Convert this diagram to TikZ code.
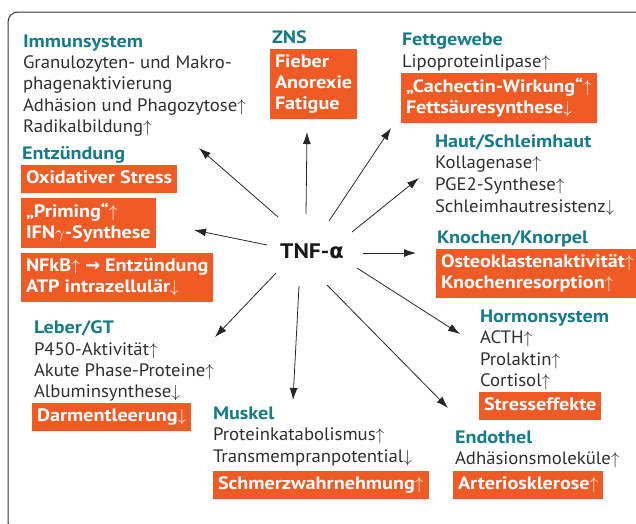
\documentclass[tikz,border=0pt]{standalone}
\usepackage{fontspec}
\setmainfont{PT Sans}[FakeStretch=1.04,BoldFeatures={FakeStretch=1.12}]
\newfontfamily\sym{DejaVu Sans}
\usetikzlibrary{arrows.meta}
\definecolor{orng}{HTML}{F05A24}
\definecolor{tealh}{HTML}{167C89}
\definecolor{txt}{HTML}{2E2E2E}
\newcommand\UA{$\uparrow$}
\newcommand\DA{$\downarrow$}
\newcommand\st{\rule[-4.5pt]{0pt}{18pt}}
\begin{document}
\begin{tikzpicture}[x=1pt,y=-1pt,
  every node/.style={inner sep=0pt,outer sep=0pt},
  head/.style={anchor=base west,text=tealh,font=\fontsize{18}{21}\selectfont\bfseries},
  body/.style={anchor=base west,text=txt,font=\fontsize{18}{21}\selectfont},
  obox/.style={anchor=north west,fill=orng,text=white,align=left,
    font=\fontsize{18}{21}\selectfont\bfseries,inner xsep=5pt,inner ysep=5pt},
  arr/.style={-{Latex[length=12pt,width=8pt]},line width=0.8pt,draw=black!85}]
\useasboundingbox (0,0) rectangle (636,523);
\begin{scope}
\clip (0,0) rectangle (636,523);
\draw[line width=1pt,black!80,rounded corners=10pt] (8,12) rectangle (645,532);
\end{scope}

% centre
\node[anchor=base,text=black!90,font=\fontsize{21}{24}\selectfont\bfseries] (tnf) at (312,258) {TNF-{\sym α}};

% Immunsystem
\node[head] (imm) at (23,47) {Immunsystem};
\node[body] (imm1) at (23,68) {Granulozyten- und Makro-};
\node[body] (imm2) at (23,89) {phagenaktivierung};
\node[body] (imm3) at (23,111) {Adhäsion und Phagozytose\UA};
\node[body] (imm4) at (23,132) {Radikalbildung\UA};

% Entzuendung
\node[head] (entz) at (22,159) {Entzündung};
\node[obox] (ox) at (21,165) {\st Oxidativer Stress};
\node[obox] (prim) at (21,198) {\st „Priming“\UA\\\st IFN$\gamma$-Synthese};
\node[obox] (nfkb) at (21,253) {\st NFkB\UA{} {\sym\bfseries →} Entzündung\\\st ATP intrazellulär\DA};

% Leber
\node[head] (leb) at (34,333) {Leber/GT};
\node[body] (leb1) at (34,355) {P450-Aktivität\UA};
\node[body] (leb2) at (34,376) {Akute Phase-Proteine\UA};
\node[body] (leb3) at (34,397) {Albuminsynthese\DA};
\node[obox] (darm) at (32,403) {\st Darmentleerung\DA};

% Muskel
\node[head] (mus) at (213,419) {Muskel};
\node[body] (mus1) at (213,440) {Proteinkatabolismus\UA};
\node[body] (mus2) at (213,462) {Transmempranpotential\DA};
\node[obox] (schm) at (213,471) {\st Schmerzwahrnehmung\UA};

% Endothel
\node[head] (endo) at (455,443) {Endothel};
\node[body] (end1) at (455,464) {Adhäsionsmoleküle\UA};
\node[obox] (arte) at (453,471) {\st Arteriosklerose\UA};

% Hormonsystem
\node[head] (horm) at (480,322) {Hormonsystem};
\node[body] (hor1) at (480,343) {ACTH\UA};
\node[body] (hor2) at (480,365) {Prolaktin\UA};
\node[body] (hor3) at (480,386) {Cortisol\UA};
\node[obox] (stre) at (479,392) {\st Stresseffekte};

% Knochen
\node[head] (kno) at (437,243) {Knochen/Knorpel};
\node[obox] (ost) at (436,249) {\st Osteoklastenaktivität\UA\\\st Knochenresorption\UA};

% Haut
\node[head] (haut) at (435,147) {Haut/Schleimhaut};
\node[body] (hau1) at (435,168) {Kollagenase\UA};
\node[body] (hau2) at (435,190) {PGE2-Synthese\UA};
\node[body] (hau3) at (435,212) {Schleimhautresistenz\DA};

% Fettgewebe
\node[head] (fett) at (402,45) {Fettgewebe};
\node[body] (fet1) at (402,67) {Lipoproteinlipase\UA};
\node[obox] (cach) at (401,73) {\st „Cachectin-Wirkung“\UA\\\st Fettsäuresynthese\DA};

% ZNS
\node[head] (zns) at (272,43) {ZNS};
\node[obox] (zbox) at (270,49) {\st Fieber\\\st Anorexie\\\st Fatigue};

% arrow ends
\coordinate (s1) at (278,217); \coordinate (t1) at (199,148);
\coordinate (s2) at (306,214); \coordinate (t2) at (307,132);
\coordinate (s3) at (329,221); \coordinate (t3) at (391,128);
\coordinate (s4) at (352,232); \coordinate (t4) at (419,178);
\coordinate (s5) at (363,253); \coordinate (t5) at (416,253);
\coordinate (s6) at (357,268); \coordinate (t6) at (460,334);
\coordinate (s7) at (327,285); \coordinate (t7) at (448,408);
\coordinate (s8) at (299,286); \coordinate (t8) at (293,400);
\coordinate (s9) at (276,273); \coordinate (t9) at (215,337);
\coordinate (s10) at (267,245); \coordinate (t10) at (194,230);
\foreach \i in {1,...,10} {\draw[arr] (s\i) -- (t\i);}
\end{tikzpicture}
\end{document}
